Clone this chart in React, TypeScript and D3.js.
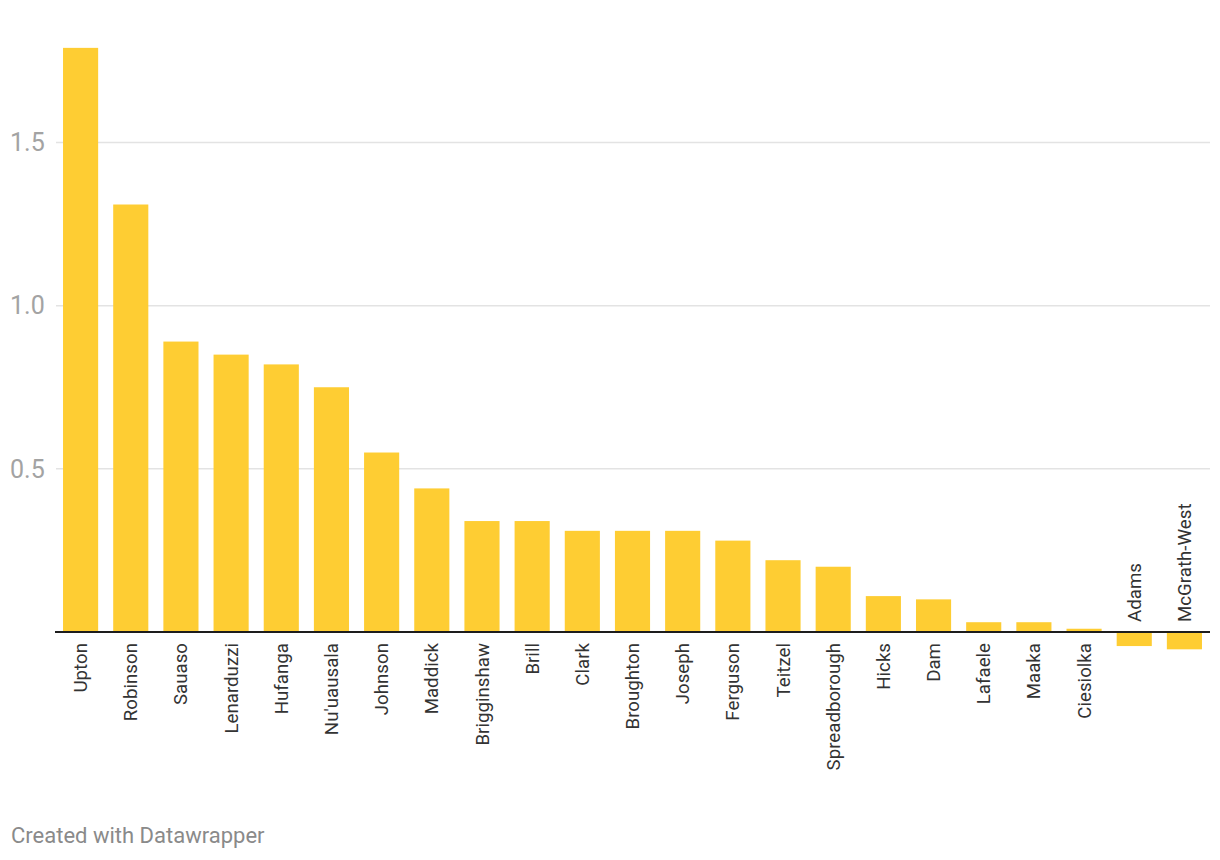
import React from "react";
import * as d3 from "d3";

const players = [
  "Upton", "Robinson", "Sauaso", "Lenarduzzi", "Hufanga", "Nu'uausala", "Johnson",
  "Maddick", "Brigginshaw", "Brill", "Clark", "Broughton", "Joseph", "Ferguson",
  "Teitzel", "Spreadborough", "Hicks", "Dam", "Lafaele", "Maaka", "Ciesiolka",
  "Adams", "McGrath-West",
];
const values = [
  1.79, 1.31, 0.89, 0.85, 0.82, 0.75, 0.55, 0.44, 0.34, 0.34, 0.31, 0.31, 0.31,
  0.28, 0.22, 0.2, 0.11, 0.1, 0.03, 0.03, 0.01, -0.04, -0.05,
];
const yTicks = [0.5, 1.0, 1.5];
const tickLabels = ["0.5", "1.0", "1.5"];

const W = 1220;
const H = 860;
const FONT = "Roboto, 'Noto Sans', sans-serif";

export default function App() {
  const x = d3
    .scaleBand<string>()
    .domain(players)
    .range([55.5, 1209.5])
    .paddingInner(0.3)
    .paddingOuter(0.15);
  const y = d3.scaleLinear().domain([0, 1.5]).range([632, 142.5]);

  return (
    <svg
      width={W}
      height={H}
      style={{ position: "absolute", left: 0, top: 0, background: "#fff" }}
      fontFamily={FONT}
    >
      {yTicks.map((t, i) => (
        <g key={t}>
          <line x1={56} x2={1210} y1={y(t)} y2={y(t)} stroke="#e3e3e3" strokeWidth={1.5} />
          <text x={10} y={y(t)} dy="0.35em" fontSize={25} fill="#a3a3a3">
            {tickLabels[i]}
          </text>
        </g>
      ))}
      {players.map((p, i) => {
        const v = values[i];
        const y0 = y(0);
        const top = v >= 0 ? y(v) : y0 + 1;
        const h = v >= 0 ? y0 - 1 - y(v) : y(v) - y0;
        return (
          <rect
            key={p}
            x={x(p)}
            y={top}
            width={x.bandwidth()}
            height={Math.max(0, h)}
            fill="#fecd33"
          />
        );
      })}
      <line x1={55} x2={1210} y1={y(0)} y2={y(0)} stroke="#1d1d1d" strokeWidth={2} />
      {players.map((p, i) => {
        const v = values[i];
        const cx = (x(p) as number) + x.bandwidth() / 2;
        const neg = v < 0;
        const ly = neg ? y(0) - 10 : y(0) + 11;
        return (
          <text
            key={p}
            transform={`translate(${cx},${ly}) rotate(-90)`}
            textAnchor={neg ? "start" : "end"}
            dy="0.35em"
            fontSize={18.7}
            fill="#333"
          >
            {p}
          </text>
        );
      })}
      <text x={11} y={843} fontSize={22} fill="#8a8a8a">
        Created with Datawrapper
      </text>
    </svg>
  );
}
